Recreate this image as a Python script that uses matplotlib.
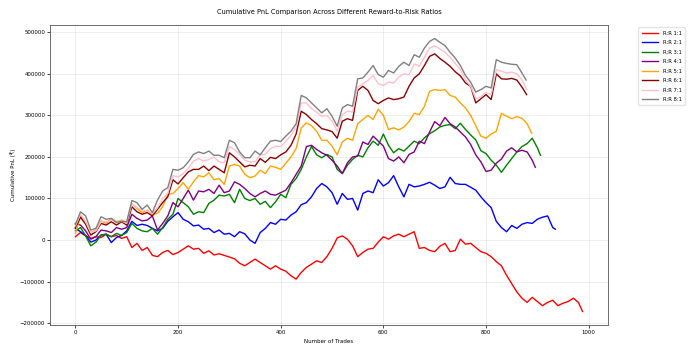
import numpy as np
import matplotlib
matplotlib.use('Agg')
import matplotlib.pyplot as plt

# cumulative PnL (in thousands), sampled every 10 trades; last value sits at last_trade
rr_labels = ['R:R 1:1', 'R:R 2:1', 'R:R 3:1', 'R:R 4:1', 'R:R 5:1', 'R:R 6:1', 'R:R 7:1', 'R:R 8:1']
colors = ['red', 'blue', 'green', 'purple', 'orange', 'darkred', 'pink', 'gray']
last_trade = [988, 935, 906, 896, 889, 879, 879, 878]

pnl_1 = [8, 18, 10, 4, 8, 6, 14, 8, 11, 4, 8, -18, -8, -25, -18, -37, -40, -30, -25, -35,
         -30, -22, -14, -22, -20, -32, -26, -36, -33, -37, -41, -45, -56, -62, -54, -46, -54, -62, -70, -62,
         -70, -75, -86, -94, -78, -66, -58, -50, -54, -40, -20, 5, 10, 2, -14, -40, -30, -22, -20, -5,
         8, 2, 10, 14, 8, 14, 20, -20, -18, -25, -28, -15, -8, -28, -25, 2, -10, -8, -18, -28,
         -32, -40, -52, -62, -85, -105, -125, -140, -150, -138, -148, -158, -150, -145, -158, -152, -148, -140, -150, -172]
pnl_2 = [28, 20, 11, -5, 0, 12, 14, -6, 6, 11, 22, 45, 35, 38, 35, 28, 22, 28, 45, 56,
         66, 50, 44, 34, 36, 26, 28, 18, 24, 14, 16, 8, 20, 15, 0, -8, 18, 28, 42, 38,
         50, 48, 60, 68, 85, 90, 104, 124, 136, 128, 114, 86, 112, 98, 100, 72, 112, 118, 114, 145,
         130, 138, 155, 128, 104, 134, 128, 130, 134, 139, 132, 124, 128, 151, 136, 134, 134, 127, 120, 104,
         90, 78, 45, 30, 20, 35, 28, 38, 42, 40, 50, 55, 58, 30, 26]
pnl_3 = [22, 30, 10, -14, -5, 12, 14, 8, 16, 11, 18, 40, 28, 22, 20, 28, 14, 30, 50, 62,
         100, 90, 80, 62, 68, 66, 88, 96, 108, 106, 110, 90, 122, 100, 95, 100, 86, 93, 78, 92,
         110, 102, 134, 148, 170, 200, 225, 205, 198, 206, 200, 170, 160, 180, 194, 204, 200, 222, 238, 228,
         255, 228, 210, 220, 214, 226, 238, 232, 246, 256, 263, 272, 276, 278, 268, 281, 266, 253, 241, 215,
         208, 192, 180, 163, 180, 196, 212, 225, 232, 245, 222, 204]
pnl_4 = [40, 36, 22, 2, 8, 24, 22, 18, 30, 26, 30, 62, 52, 46, 48, 58, 24, 40, 58, 90,
         80, 100, 120, 96, 118, 116, 122, 112, 132, 114, 118, 140, 134, 124, 112, 104, 112, 118, 110, 108,
         114, 120, 138, 158, 178, 225, 228, 218, 210, 204, 192, 178, 160, 186, 200, 202, 236, 230, 250, 238,
         226, 196, 190, 200, 186, 206, 212, 238, 232, 260, 285, 275, 295, 280, 272, 260, 248, 230, 205, 188,
         165, 168, 185, 195, 214, 222, 212, 216, 212, 192, 175]
pnl_5 = [16, 58, 42, 18, 24, 46, 40, 52, 44, 48, 42, 88, 76, 66, 72, 62, 64, 80, 110, 112,
         124, 138, 122, 140, 155, 152, 162, 145, 148, 134, 178, 182, 178, 158, 150, 154, 168, 160, 178, 175,
         170, 185, 200, 220, 270, 282, 275, 262, 240, 240, 226, 205, 236, 245, 240, 280, 290, 300, 290, 315,
         300, 266, 270, 265, 272, 285, 305, 302, 322, 358, 362, 360, 362, 348, 344, 330, 318, 300, 275, 250,
         245, 255, 262, 305, 298, 292, 297, 293, 280, 257]
pnl_6 = [30, 55, 38, 12, 20, 40, 36, 44, 36, 44, 36, 80, 68, 62, 66, 58, 74, 90, 104, 145,
         135, 150, 164, 170, 170, 178, 167, 178, 170, 162, 210, 200, 188, 176, 180, 178, 196, 187, 199, 196,
         205, 212, 228, 255, 310, 302, 290, 280, 268, 265, 261, 245, 286, 292, 288, 360, 370, 360, 336, 328,
         336, 342, 338, 340, 344, 370, 390, 400, 420, 442, 448, 437, 428, 418, 405, 395, 378, 370, 330, 340,
         350, 338, 400, 388, 387, 389, 385, 368, 350]
pnl_7 = [34, 62, 44, 18, 22, 44, 44, 48, 42, 46, 40, 88, 78, 72, 70, 64, 78, 100, 112, 155,
         152, 160, 172, 190, 196, 190, 194, 200, 188, 186, 225, 218, 206, 192, 188, 188, 205, 206, 220, 226,
         225, 238, 252, 272, 330, 330, 316, 308, 298, 300, 286, 262, 302, 310, 308, 368, 376, 384, 396, 376,
         372, 380, 378, 392, 400, 398, 424, 418, 440, 462, 467, 460, 452, 440, 425, 410, 386, 370, 340, 345,
         355, 350, 410, 406, 402, 404, 400, 385, 363]
pnl_8 = [37, 68, 58, 24, 28, 56, 50, 52, 42, 45, 44, 95, 90, 74, 84, 66, 96, 118, 126, 170,
         168, 174, 188, 206, 212, 208, 214, 204, 204, 198, 240, 234, 212, 198, 198, 214, 205, 222, 238, 240,
         237, 250, 262, 280, 348, 342, 330, 318, 306, 316, 298, 274, 318, 326, 322, 388, 390, 404, 420, 398,
         392, 408, 402, 418, 428, 420, 446, 440, 462, 478, 485, 476, 468, 452, 438, 420, 396, 380, 356, 362,
         370, 366, 434, 428, 425, 423, 422, 402, 385]

series = [pnl_1, pnl_2, pnl_3, pnl_4, pnl_5, pnl_6, pnl_7, pnl_8]

fig, ax = plt.subplots(figsize=(6.9, 3.5), dpi=100)
fig.subplots_adjust(left=0.0725, right=0.881, top=0.929, bottom=0.071)

for vals, end, label, color in zip(series, last_trade, rr_labels, colors):
    trades = np.arange(len(vals)) * 10
    trades[-1] = end
    ax.plot(trades, np.array(vals) * 1000, color=color, lw=1.0, label=label)

ax.set_title('Cumulative PnL Comparison Across Different Reward-to-Risk Ratios', fontsize=4.8, pad=8)
ax.set_xlabel('Number of Trades', fontsize=4.0, labelpad=3)
ax.set_ylabel('Cumulative PnL (₹)', fontsize=4.0, labelpad=3)
ax.tick_params(labelsize=3.9, width=0.5, length=2, pad=1.5)
ax.set_xticks([0, 200, 400, 600, 800, 1000])
ax.grid(True, alpha=0.3, lw=0.5)
for s in ax.spines.values():
    s.set_linewidth(0.6)
    s.set_color('#555555')

ax.legend(bbox_to_anchor=(1.05, 1), loc='upper left', fontsize=3.8, handlelength=3.2,
          labelspacing=0.85, borderpad=0.6, framealpha=0.8, edgecolor='#dddddd')

fig.savefig('out.png', dpi=100)
